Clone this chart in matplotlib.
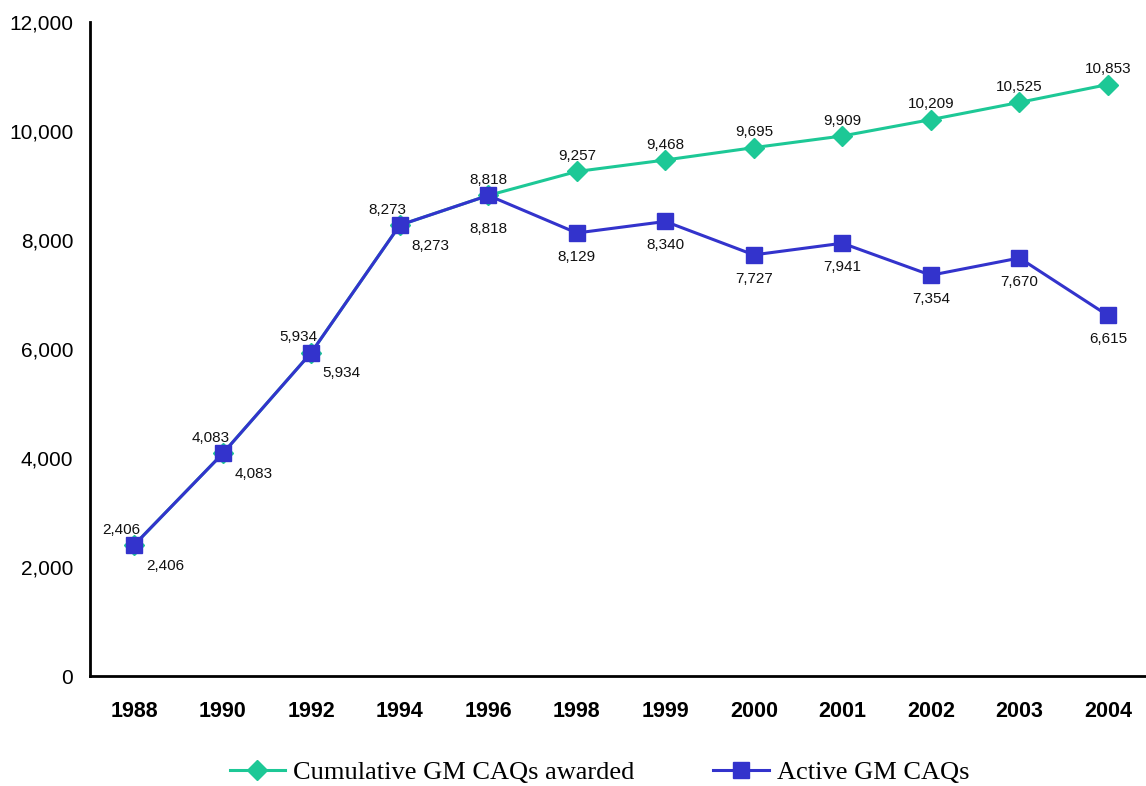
import matplotlib.pyplot as plt
from matplotlib.ticker import FuncFormatter

years = ["1988", "1990", "1992", "1994", "1996", "1998", "1999",
         "2000", "2001", "2002", "2003", "2004"]
cumulative = [2406, 4083, 5934, 8273, 8818, 9257, 9468, 9695, 9909, 10209, 10525, 10853]
active = [2406, 4083, 5934, 8273, 8818, 8129, 8340, 7727, 7941, 7354, 7670, 6615]

green = "#1DC896"
blue = "#3333CC"

fig = plt.figure(figsize=(11.46, 7.86), dpi=100)
ax = fig.add_axes([90 / 1146, 1 - 676 / 786, 1 - 90 / 1146, (676 - 22) / 786])

x = list(range(len(years)))
ax.plot(x, cumulative, color=green, lw=2.2, marker="D", ms=10, zorder=3,
        label="Cumulative GM CAQs awarded")
ax.plot(x, active, color=blue, lw=2.2, marker="s", ms=11, zorder=4,
        label="Active GM CAQs")

lab_font = dict(fontsize=11, family="Liberation Sans", color="#111111")
for i, (c, a) in enumerate(zip(cumulative, active)):
    if i < 4:
        # early points overlap: green label up-left, blue label down-right
        ax.annotate(f"{c:,}", (i, c), xytext=(-9, 6), textcoords="offset points",
                    ha="center", va="bottom", **lab_font)
        ax.annotate(f"{a:,}", (i, a), xytext=(22, -10), textcoords="offset points",
                    ha="center", va="top", **lab_font)
    else:
        down = -19 if i == 4 else -12
        ax.annotate(f"{c:,}", (i, c), xytext=(0, 6), textcoords="offset points",
                    ha="center", va="bottom", **lab_font)
        ax.annotate(f"{a:,}", (i, a), xytext=(0, down), textcoords="offset points",
                    ha="center", va="top", **lab_font)

ax.set_ylim(0, 12000)
ax.set_yticks(range(0, 12001, 2000))
ax.yaxis.set_major_formatter(FuncFormatter(lambda v, p: f"{int(v):,}"))
ax.set_xlim(-0.5, 11.43)
ax.set_xticks(x)
ax.set_xticklabels(years)
ax.tick_params(length=0)
ax.tick_params(axis="y", pad=12)
ax.tick_params(axis="x", pad=18)
for t in ax.get_yticklabels():
    t.set_fontfamily("Liberation Sans")
    t.set_fontsize(15)
for t in ax.get_xticklabels():
    t.set_fontfamily("Liberation Sans")
    t.set_fontsize(15.5)
    t.set_fontweight("bold")

ax.spines["top"].set_visible(False)
ax.spines["right"].set_visible(False)
ax.spines["left"].set_linewidth(2)
ax.spines["bottom"].set_linewidth(2)

fig.legend(loc="center", bbox_to_anchor=(0.523, 1 - 772 / 786), ncol=2, frameon=False,
           prop={"family": "Liberation Serif", "size": 19}, columnspacing=3.0,
           handlelength=2.1, handletextpad=0.3)

fig.savefig("out.png", dpi=100)
